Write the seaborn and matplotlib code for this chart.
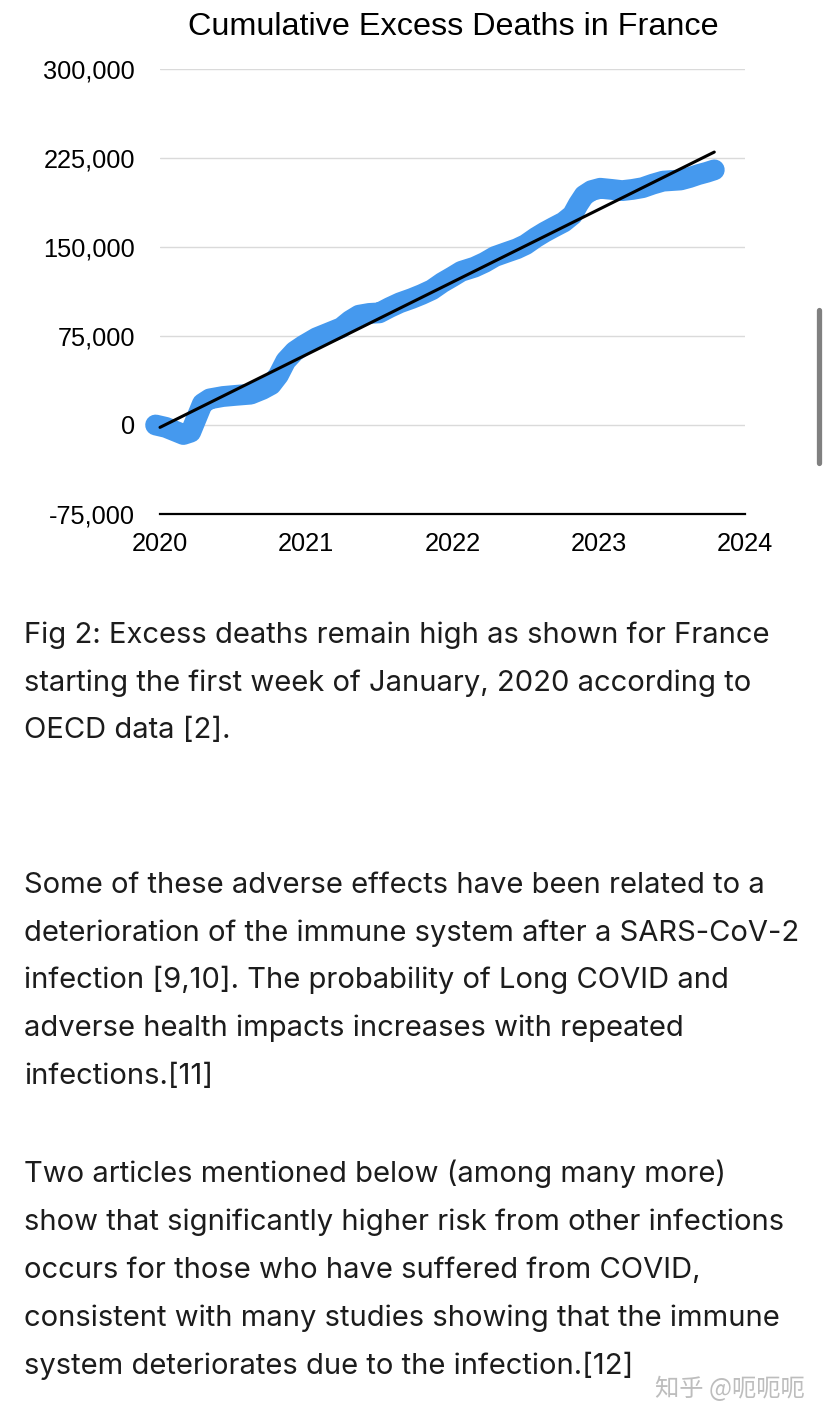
import numpy as np
import pandas as pd
import matplotlib
matplotlib.use("Agg")
import matplotlib.pyplot as plt
from matplotlib.lines import Line2D
from matplotlib.ticker import FuncFormatter
import seaborn as sns

# cumulative excess deaths (year fraction, deaths)
years = [2019.97, 2020.04, 2020.10, 2020.16, 2020.21, 2020.25, 2020.29,
         2020.34, 2020.43, 2020.52, 2020.62, 2020.70, 2020.76, 2020.81, 2020.86,
         2020.92, 2020.98, 2021.07, 2021.16, 2021.24, 2021.30, 2021.36, 2021.43,
         2021.50, 2021.57, 2021.64, 2021.72, 2021.79, 2021.86, 2021.93, 2022.00,
         2022.06, 2022.15, 2022.22, 2022.29, 2022.37, 2022.44, 2022.50, 2022.57,
         2022.63, 2022.69, 2022.76, 2022.82, 2022.86, 2022.90, 2022.95, 2023.01,
         2023.09, 2023.16, 2023.23, 2023.30, 2023.37, 2023.44, 2023.50, 2023.56,
         2023.62, 2023.68, 2023.74, 2023.79]
deaths = [0, -2000, -5000, -8000, -6000, 6000, 18000,
          22000, 24000, 25000, 26000, 30000, 34000, 42000, 54000,
          62000, 67000, 73500, 78000, 82000, 88000, 92500, 94000,
          94500, 99000, 103000, 106500, 110000, 114000, 120000, 125000,
          129500, 133000, 137000, 142000, 145500, 148500, 152000, 158000,
          162500, 166500, 171000, 177000, 186000, 193500, 197500, 199500,
          198500, 197500, 198500, 200000, 203000, 205500, 206000, 206500,
          208500, 211000, 213000, 215000]
trend_years = [2020.0, 2023.79]
trend_deaths = [-2000, 230000]

y_ticks = [-75000, 0, 75000, 150000, 225000, 300000]
x_ticks = [2020, 2021, 2022, 2023, 2024]

paragraphs = [
    ["Fig 2: Excess deaths remain high as shown for France",
     "starting the first week of January, 2020 according to",
     "OECD data [2]."],
    ["Some of these adverse effects have been related to a",
     "deterioration of the immune system after a SARS-CoV-2",
     "infection [9,10]. The probability of Long COVID and",
     "adverse health impacts increases with repeated",
     "infections.[11]"],
    ["Two articles mentioned below (among many more)",
     "show that significantly higher risk from other infections",
     "occurs for those who have suffered from COVID,",
     "consistent with many studies showing that the immune",
     "system deteriorates due to the infection.[12]"],
]
para_baselines = [[643, 691, 738], [893, 941, 988, 1036, 1084],
                  [1182, 1230, 1278, 1326, 1374]]

W, H = 828, 1421
sns.set_theme(style="white")
plt.rcParams["font.family"] = ["Liberation Sans", "DejaVu Sans"]

fig = plt.figure(figsize=(W / 100, H / 100), dpi=100)
ax = fig.add_axes([160 / W, 1 - 514 / H, 585 / W, 445 / H])

df = pd.DataFrame({"year": years, "deaths": deaths})
tr = pd.DataFrame({"year": trend_years, "deaths": trend_deaths})
sns.lineplot(data=df, x="year", y="deaths", ax=ax, color="#4599ee",
             linewidth=15, solid_capstyle="round", solid_joinstyle="round",
             zorder=3, clip_on=False)
sns.lineplot(data=tr, x="year", y="deaths", ax=ax, color="black",
             linewidth=2.2, solid_capstyle="round", zorder=4, clip_on=False)

ax.set_xlim(2020, 2024)
ax.set_ylim(-75000, 300000)
ax.set_xticks(x_ticks)
ax.set_yticks(y_ticks)
ax.yaxis.set_major_formatter(FuncFormatter(lambda v, p: f"{int(v):,}"))
ax.xaxis.set_major_formatter(FuncFormatter(lambda v, p: f"{int(v)}"))
ax.set_xlabel("")
ax.set_ylabel("")
for y in y_ticks[1:]:
    ax.axhline(y, color="#dadada", lw=1, zorder=1)
for s in ["top", "left", "right"]:
    ax.spines[s].set_visible(False)
ax.spines["bottom"].set_color("black")
ax.spines["bottom"].set_linewidth(1.6)
ax.tick_params(axis="both", length=0, labelsize=18.3, colors="black")
ax.tick_params(axis="y", pad=18)
ax.tick_params(axis="x", pad=13)
ax.patch.set_alpha(0)

fig.text(453 / W, 1 - 35 / H, "Cumulative Excess Deaths in France",
         ha="center", va="baseline", fontsize=23.3, color="black")

for lines, bases in zip(paragraphs, para_baselines):
    for txt, b in zip(lines, bases):
        fig.text(24 / W, 1 - b / H, txt, ha="left", va="baseline",
                 fontsize=21, color="#1c1c1c", family=["Inter", "DejaVu Sans"])

fig.text(655 / W, 1 - 1396 / H, "知乎 @呃呃呃", ha="left", va="baseline",
         fontsize=17.5, color="#bdbdbd", family=["Noto Sans CJK SC", "DejaVu Sans"])

# scroll bar
fig.add_artist(Line2D([819 / W, 819 / W], [1 - 310 / H, 1 - 463 / H],
                      transform=fig.transFigure, color="#808080", lw=3.8,
                      solid_capstyle="round"))

fig.savefig("out.png", dpi=100, facecolor="white")
